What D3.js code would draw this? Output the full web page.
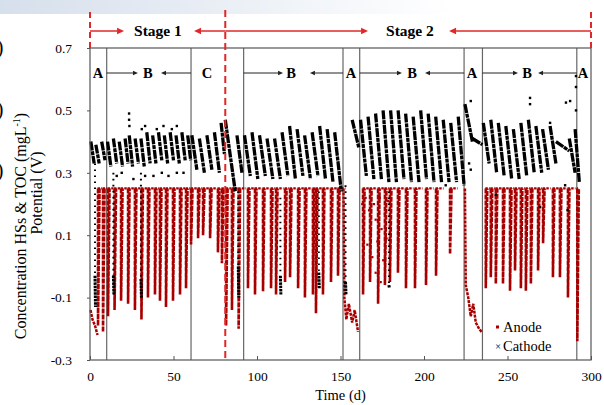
<!DOCTYPE html>
<html>
<head>
<meta charset="utf-8">
<script src="https://cdn.jsdelivr.net/npm/d3@7/dist/d3.min.js"></script>
<style>
  body { margin: 0; background: #fff; }
  svg { display: block; font-family: "Liberation Serif", "Times New Roman", serif; }
</style>
</head>
<body>
<div id="chart"></div>
<script>
// ---- data: time in days, potential in volts ----
const xTicks = [0, 50, 100, 150, 200, 250, 300];
const yTicks = [-0.3, -0.1, 0.1, 0.3, 0.5, 0.7];
const phaseDividers = [10, 60.5, 92, 151.5, 161.5, 224, 235, 291.5];
const stageDivider = 81;
const phaseLabels = [["A", 4.8], ["B", 34.7], ["C", 70], ["B", 120.4], ["A", 156.3], ["B", 192.8], ["A", 228.7], ["B", 261.7], ["A", 295.2]];
const phaseArrows = [[10, 28.7], [60.5, 42.5], [92, 115.6], [151.5, 131.7], [161.5, 186.8], [224, 200.6], [235, 256.3], [291.5, 268.3]];
const stageLabels = [["Stage 1", 40.7], ["Stage 2", 191.6]];
const stageArrows = [[0, 20.4], [81, 62.3], [81, 166.5], [300, 215]];
const anodeCeiling = 0.25;

// cathode cycles: [start day, end day, potential at start, potential at end]
const cathodeTeeth = [
  [0.5, 2.5, 0.40, 0.33], [3.5, 5.5, 0.39, 0.33], [7, 9, 0.40, 0.34],
  [10.5, 12.5, 0.40, 0.32], [14, 16, 0.41, 0.33], [17.5, 19.5, 0.40, 0.32], [21, 22.8, 0.41, 0.33],
  [23.5, 25.5, 0.42, 0.32], [27, 29, 0.41, 0.33], [30.5, 32.5, 0.41, 0.32], [34, 36, 0.43, 0.33],
  [37.5, 39.5, 0.42, 0.33], [41, 43, 0.43, 0.34], [44.5, 46.5, 0.42, 0.33], [48, 50, 0.43, 0.34],
  [51.5, 53.5, 0.42, 0.33], [55, 57, 0.43, 0.34], [58.5, 60.3, 0.42, 0.34],
  [61, 64, 0.42, 0.31], [65.5, 68.5, 0.41, 0.30], [70, 73, 0.42, 0.31], [74.5, 77.5, 0.43, 0.30],
  [78.5, 80.5, 0.46, 0.36], [81, 87, 0.47, 0.24], [88, 91, 0.42, 0.30],
  [92.5, 96, 0.42, 0.29], [97, 100.5, 0.43, 0.28], [101.5, 105, 0.42, 0.29], [106, 109.5, 0.41, 0.28],
  [110.5, 114, 0.41, 0.28], [115, 118.5, 0.43, 0.29], [119.5, 123, 0.45, 0.28], [124, 127.5, 0.44, 0.29],
  [128.5, 132, 0.42, 0.28], [133, 136.5, 0.43, 0.29], [137.5, 141, 0.45, 0.28], [142, 145.5, 0.44, 0.27],
  [146.5, 150.5, 0.43, 0.24], [157, 161, 0.47, 0.38],
  [162, 165.5, 0.47, 0.29], [166.5, 170, 0.48, 0.28], [171, 174.5, 0.49, 0.28], [175.5, 179, 0.50, 0.27],
  [180, 183.5, 0.50, 0.27], [184.5, 188, 0.50, 0.28], [189, 192.5, 0.49, 0.27], [193.5, 197, 0.48, 0.27],
  [198, 201.5, 0.50, 0.28], [202.5, 206, 0.49, 0.27], [207, 210.5, 0.48, 0.27], [211.5, 215, 0.47, 0.27],
  [216, 219.5, 0.46, 0.27], [220.5, 224, 0.48, 0.26],
  [224.5, 229, 0.52, 0.40], [229, 235, 0.41, 0.39],
  [235.5, 239, 0.46, 0.33], [240, 243.5, 0.47, 0.30], [244.5, 248, 0.46, 0.29], [249, 252.5, 0.45, 0.28],
  [253.5, 257, 0.44, 0.28], [258, 261.5, 0.46, 0.29], [262.5, 266, 0.47, 0.30], [267, 270.5, 0.45, 0.30],
  [271, 274.5, 0.44, 0.31], [275.5, 279, 0.45, 0.33], [279, 287, 0.40, 0.37], [287, 290.5, 0.41, 0.30],
  [290.5, 293, 0.44, 0.27]
];
// cathode potential falling below the anode ceiling: [day, top, start of dense part, bottom]
const cathodeDrops = [
  [3, 0.33, -0.03, -0.13], [14, 0.30, -0.03, -0.09], [30.5, 0.30, -0.04, -0.10],
  [88.8, 0.24, 0.0, -0.10], [114, 0.22, -0.03, -0.09], [137, 0.24, -0.02, -0.07],
  [153, 0.26, -0.05, -0.09], [179, 0.24, -0.06, -0.07]
];
const cathodeDots = [
  [23.4, 0.49], [23.4, 0.47], [23.6, 0.45], [31, 0.44], [33, 0.45], [40, 0.44], [44, 0.45], [49, 0.44], [52, 0.45],
  [16, 0.29], [19, 0.30], [26, 0.28], [33, 0.29], [38, 0.29], [43, 0.30], [47, 0.29], [52, 0.30], [56, 0.30],
  [213, 0.26], [228, 0.53], [227, 0.33], [228, 0.31], [243, 0.23], [263.5, 0.54], [263.5, 0.52], [269.5, 0.19],
  [275.5, 0.46], [284.5, 0.26], [285, 0.525], [286, 0.18], [287.5, 0.53], [291, 0.61], [291, 0.575], [291, 0.50]
];

// anode cycles: [feeding day, lowest potential]
const anodeCycles = [
  [4.8, -0.19], [7.8, -0.21], [10.8, -0.16], [14.7, -0.14], [18.6, -0.11], [22.8, -0.12], [26.9, -0.14],
  [30.8, -0.17], [34.7, -0.10], [38.9, -0.09], [41.9, -0.11], [45.5, -0.13], [49.7, -0.11], [53.9, -0.09],
  [57.5, -0.07], [60.5, 0.07], [64.7, 0.09], [67.7, 0.10], [71.9, 0.09], [76.6, 0.045], [79, 0.01],
  [81.5, -0.19], [85, -0.14], [89, -0.20],
  [94.6, -0.07], [98.8, -0.09], [103.6, -0.08], [108.4, -0.07], [111.4, -0.09], [116.8, -0.05], [119.8, -0.035],
  [124.6, -0.07], [128.7, -0.10], [133.5, -0.09], [135.3, -0.15], [139.5, -0.09], [144.3, -0.05], [148.5, -0.03],
  [163.5, -0.09], [167.7, -0.05], [172.5, -0.12], [176.6, -0.06], [179.6, -0.05], [184.4, -0.02], [189.2, -0.07],
  [194.6, -0.07], [201.2, -0.06], [207.2, -0.03], [215.6, 0.04],
  [237, -0.07], [240, -0.035], [243, -0.055], [247.3, -0.055], [251.5, -0.078], [254.5, -0.013], [258, -0.07],
  [261, -0.078], [264, -0.055], [268.3, -0.013], [271.3, 0.074], [277.2, -0.035], [281.4, -0.035], [286.2, -0.10],
  [291.8, -0.24]
];
const anodeTraces = [
  [[0.3, -0.14], [1.5, -0.17], [3, -0.19], [4.5, -0.22]],
  [[151.8, 0.25], [152.3, -0.10], [153.5, -0.17], [155, -0.12], [157, -0.18], [158.5, -0.14], [160.5, -0.21]],
  [[224.5, 0.25], [225, -0.06], [226.5, -0.10], [228, -0.16], [229.5, -0.12], [231, -0.18], [233, -0.20], [234.5, -0.21]]
];
const anodeDots = [
  [163, 0.20], [164, 0.14], [165, 0.22], [166, 0.07], [167, 0.18], [168, 0.11], [169, 0.03], [170, 0.20],
  [171, 0.15], [172, 0.08], [173.5, 0.22], [174.5, 0.12], [175.5, 0.02], [176.5, 0.17], [177.5, 0.09],
  [178.5, 0.21], [171, -0.02], [174, -0.05]
];

// ---- drawing ----
const W = 604, H = 405;
const RED = "#a80000", STAGE = "#e02828", FRAME = "#555";
const svg = d3.select("#chart").append("svg").attr("width", W).attr("height", H);

const x = d3.scaleLinear().domain([0, 300]).range([90, 591]);
const y = d3.scaleLinear().domain([-0.3, 0.7]).range([360, 48]);
const line = d3.line().x(d => x(d[0])).y(d => y(d[1]));

// faint bluish band along the top of the scan
const grad = svg.append("defs").append("linearGradient").attr("id", "topband");
grad.append("stop").attr("offset", "0%").attr("stop-color", "#d6dfec");
grad.append("stop").attr("offset", "75%").attr("stop-color", "#fff");
svg.append("rect").attr("width", W).attr("height", 14).attr("fill", "url(#topband)");

// cut-off glyphs at the left edge
[54, 116, 177].forEach(b => {
  svg.append("text").attr("x", 3.5).attr("y", b).attr("text-anchor", "end")
    .style("font-size", "20px").text(")");
});

// phase dividers
svg.append("g").selectAll("line").data(phaseDividers).join("line")
  .attr("x1", d => x(d)).attr("x2", d => x(d))
  .attr("y1", y(0.7)).attr("y2", y(-0.3))
  .attr("stroke", "#666").attr("stroke-width", 1.2);

// anode
const anode = svg.append("g").attr("fill", "none").attr("stroke", RED);
anode.selectAll("path.col").data(anodeCycles).join("path").attr("class", "col")
  .attr("d", d => line([[d[0], anodeCeiling], [d[0], d[1]], [d[0] + 0.9, anodeCeiling]]))
  .attr("stroke-width", 2.6).attr("stroke-dasharray", "5,1");
anode.selectAll("path.cap").data(anodeCycles).join("path").attr("class", "cap")
  .attr("d", (d, i) => {
    const nxt = i < anodeCycles.length - 1 ? anodeCycles[i + 1][0] : d[0] + 1;
    return line([[d[0] - 0.3, anodeCeiling], [Math.min(nxt - 0.6, d[0] + 4.5), anodeCeiling]]);
  })
  .attr("stroke-width", 2.2).attr("stroke-dasharray", "2.5,1.2");
anode.selectAll("path.trace").data(anodeTraces).join("path").attr("class", "trace")
  .attr("d", line).attr("stroke-width", 2.5).attr("stroke-dasharray", "3,1");
svg.append("g").selectAll("rect").data(anodeDots).join("rect")
  .attr("x", d => x(d[0]) - 1).attr("y", d => y(d[1]) - 1)
  .attr("width", 2.2).attr("height", 2.2).attr("fill", RED);

// cathode
const cath = svg.append("g").attr("fill", "none").attr("stroke", "#000");
cath.selectAll("path.tooth").data(cathodeTeeth).join("path").attr("class", "tooth")
  .attr("d", d => line([[d[0], d[2]], [d[1], d[3]]]))
  .attr("stroke-width", 3.3).attr("stroke-dasharray", "9,0.8,4,0.8");
cath.selectAll("path.sparse").data(cathodeDrops).join("path").attr("class", "sparse")
  .attr("d", d => line([[d[0], d[1]], [d[0], d[2]]]))
  .attr("stroke-width", 2).attr("stroke-dasharray", "1.6,4.4");
cath.selectAll("path.dense").data(cathodeDrops).join("path").attr("class", "dense")
  .attr("d", d => line([[d[0], d[2]], [d[0] + 0.3, d[3]]]))
  .attr("stroke-width", 3).attr("stroke-dasharray", "2.5,0.8");
svg.append("g").selectAll("rect").data(cathodeDots).join("rect")
  .attr("x", d => x(d[0]) - 1.2).attr("y", d => y(d[1]) - 1.2)
  .attr("width", 2.4).attr("height", 2.4).attr("fill", "#000");

// frame
svg.append("rect").attr("x", x(0)).attr("y", y(0.7))
  .attr("width", x(300) - x(0)).attr("height", y(-0.3) - y(0.7))
  .attr("fill", "none").attr("stroke", FRAME).attr("stroke-width", 1.2);

// axes
const yAxis = svg.append("g").attr("transform", `translate(${x(0)},0)`)
  .call(d3.axisLeft(y).tickValues(yTicks).tickSize(3).tickPadding(15).tickFormat(d => d.toFixed(1)));
const xAxis = svg.append("g").attr("transform", `translate(0,${y(-0.3)})`)
  .call(d3.axisBottom(x).tickValues(xTicks).tickSize(-4).tickPadding(11));
[yAxis, xAxis].forEach(a => {
  a.attr("font-family", null).attr("font-size", null);
  a.select(".domain").remove();
  a.selectAll("line").attr("stroke", FRAME);
  a.selectAll("text").style("font-size", "13.5px").attr("fill", "#000");
});

// axis titles
svg.append("text").attr("x", x(150)).attr("y", 400).attr("text-anchor", "middle")
  .style("font-size", "14.5px").text("Time (d)");
const yt = svg.append("text").attr("transform", "translate(26,226) rotate(-90)")
  .attr("text-anchor", "middle").style("font-size", "16px");
yt.append("tspan").text("Concentration HSs & TOC (mgL");
yt.append("tspan").attr("dy", -6).style("font-size", "10px").text("-1");
yt.append("tspan").attr("dy", 6).text(")");
svg.append("text").attr("transform", "translate(42,193) rotate(-90)")
  .attr("text-anchor", "middle").style("font-size", "16px").text("Potential (V)");

// arrows
function arrow(g, from, to, yy, color, width, head) {
  const dir = Math.sign(to - from);
  g.append("line").attr("x1", from).attr("x2", to - dir * head).attr("y1", yy).attr("y2", yy)
    .attr("stroke", color).attr("stroke-width", width);
  g.append("path").attr("fill", color)
    .attr("d", `M${to},${yy}L${to - dir * head},${yy - head * 0.45}L${to - dir * head},${yy + head * 0.45}Z`);
}

// phase annotations
const ph = svg.append("g");
phaseArrows.forEach(a => arrow(ph, x(a[0]), x(a[1]), 73, "#222", 1, 5));
ph.selectAll("text").data(phaseLabels).join("text")
  .attr("x", d => x(d[1])).attr("y", 78).attr("text-anchor", "middle")
  .style("font-size", "14.5px").style("font-weight", "bold").text(d => d[0]);

// stage annotations
const st = svg.append("g");
stageArrows.forEach(a => arrow(st, x(a[0]), x(a[1]), 31, STAGE, 1.5, 7));
st.selectAll("text").data(stageLabels).join("text")
  .attr("x", d => x(d[1])).attr("y", 36).attr("text-anchor", "middle")
  .style("font-size", "15.5px").style("font-weight", "bold").text(d => d[0]);
[0, 300].forEach(t => {
  st.append("line").attr("x1", x(t)).attr("x2", x(t)).attr("y1", 12).attr("y2", y(0.7))
    .attr("stroke", STAGE).attr("stroke-width", 2).attr("stroke-dasharray", "6,4");
});
st.append("line").attr("x1", x(stageDivider)).attr("x2", x(stageDivider)).attr("y1", 10).attr("y2", y(-0.3))
  .attr("stroke", STAGE).attr("stroke-width", 2).attr("stroke-dasharray", "7,4");

// legend
const lg = svg.append("g");
lg.append("rect").attr("x", 496).attr("y", 325.5).attr("width", 3).attr("height", 3).attr("fill", RED);
lg.append("text").attr("x", 503).attr("y", 332).style("font-size", "14.5px").text("Anode");
lg.append("text").attr("x", 498).attr("y", 350).attr("text-anchor", "middle").style("font-size", "10px").text("×");
lg.append("text").attr("x", 503).attr("y", 351).style("font-size", "14.5px").text("Cathode");
</script>
</body>
</html>
